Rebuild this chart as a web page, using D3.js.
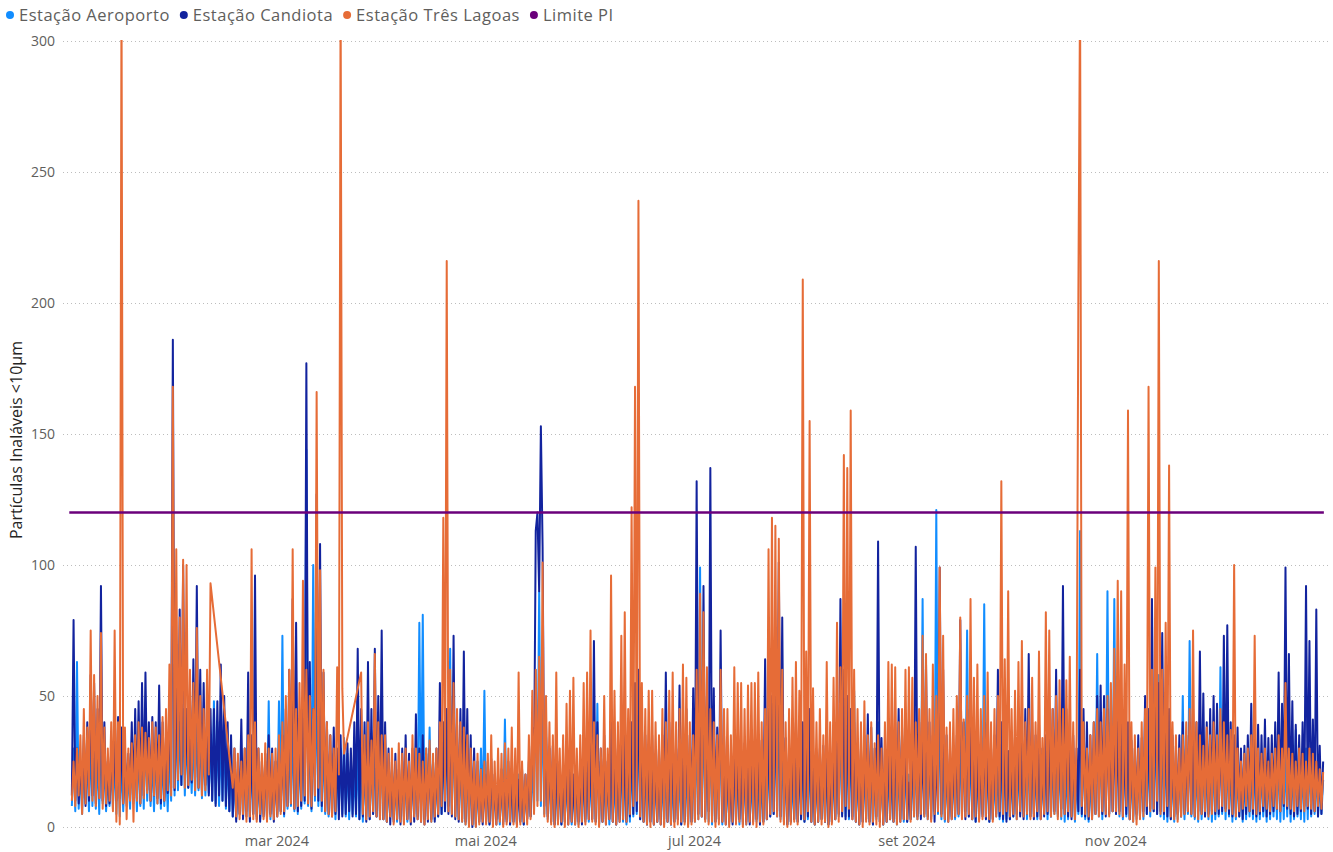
<!DOCTYPE html>
<html>
<head>
<meta charset="utf-8">
<script src="https://cdn.jsdelivr.net/npm/d3@7"></script>
<style>
  body { margin: 0; background: #fff; }
  svg { font-family: "Open Sans", Roboto, sans-serif; }
</style>
</head>
<body>
<svg id="chart" width="1333" height="852"></svg>
<script>
// PM10 readings, two per day (06:00 and 18:00), one inner array per month of 2024
// null = no reading (the line is joined across the gap, as in the source chart)
var aeroporto = [
  [8,30, 6,63, 7,22, 5,25, 9,28, 6,35, 8,30, 7,28, 5,40, 9,25, 6,20, 8,24, 7,28, 5,30, 4,26, 6,22, 8,20, 7,28, 9,30, 6,32, 8,35, 7,38, 10,30, 8,28, 6,32, 9,35, 7,28, 8,25, 6,30, 10,120, 12,45],
  [14,40, 16,45, 12,38, 15,30, 13,35, 12,40, 14,38, 11,32, 12,30, 13,35, 10,48, 9,40, 8,35, 10,38, 7,30, 6,28, 4,20, 3,22, 5,30, 4,25, 6,28, 3,30, 5,40, 4,22, 3,20, 5,25, 4,48, 3,20, 5,25],
  [5,48, 6,73, 4,30, 7,35, 8,40, 6,30, 5,35, 7,40, 9,144, 8,40, 6,100, 10,60, 8,45, 6,35, 5,30, 4,25, 5,28, 3,25, 6,30, 5,34, 4,28, 3,25, 5,22, 4,30, 3,28, 2,25, 4,30, 3,28, 5,32, 4,30, 3,35],
  [3,25, 2,20, 4,22, 3,18, 2,20, 3,25, 4,22, 2,20, 3,25, 5,30, 4,78, 6,81, 3,30, 4,38, 2,25, 3,22, 4,30, 5,35, 6,40, 8,68, 5,45, 4,35, 3,30, 2,28, 1,25, 2,22, 1,20, 0,18, 2,30, 3,52],
  [2,20, 1,18, 2,15, 3,18, 1,20, 2,41, 3,20, 1,18, 2,15, 1,20, 2,18, 1,16, 3,20, 4,25, 6,60, 10,90, 8,50, 5,40, 3,30, 2,25, 1,20, 2,22, 1,18, 2,20, 3,22, 1,18, 2,20, 1,25, 2,22, 3,20, 2,25],
  [3,35, 2,47, 1,25, 2,20, 3,22, 1,25, 2,20, 1,22, 3,30, 2,25, 1,20, 2,30, 4,50, 5,55, 3,30, 2,25, 1,22, 2,20, 1,24, 2,22, 3,20, 1,25, 2,22, 1,20, 2,25, 3,22, 1,20, 2,25, 1,22, 2,30],
  [2,40, 3,99, 4,50, 3,35, 2,40, 1,30, 2,28, 3,47, 1,25, 2,22, 1,20, 2,25, 3,22, 1,20, 2,25, 1,22, 2,20, 3,25, 2,22, 1,20, 2,30, 3,35, 4,40, 5,45, 4,50, 3,35, 2,25, 1,22, 2,20, 3,25, 2,30],
  [3,30, 2,25, 3,30, 2,22, 1,25, 2,28, 3,22, 2,25, 1,20, 2,25, 3,30, 4,40, 5,45, 4,35, 3,40, 4,52, 2,25, 1,22, 2,25, 3,30, 2,25, 1,22, 3,40, 2,25, 1,22, 2,25, 3,22, 2,28, 1,25, 3,38, 2,30],
  [2,20, 3,25, 4,30, 3,35, 5,87, 4,40, 3,30, 4,35, 6,121, 5,50, 3,30, 2,25, 3,22, 4,25, 3,30, 4,35, 5,40, 6,75, 4,35, 3,30, 2,25, 3,30, 5,85, 3,30, 2,25, 3,20, 4,25, 3,30, 2,28, 3,25],
  [3,25, 4,30, 3,28, 5,25, 4,30, 3,35, 4,30, 5,25, 3,28, 4,22, 5,30, 3,35, 4,30, 5,40, 4,30, 3,35, 2,25, 3,30, 4,25, 2,20, 5,113, 4,40, 3,25, 2,20, 3,30, 5,66, 4,40, 3,35, 6,90, 5,50, 6,87],
  [5,50, 4,40, 3,35, 4,30, 3,25, 2,22, 3,25, 4,28, 3,30, 5,35, 4,40, 6,45, 5,58, 4,40, 3,35, 2,30, 3,25, 2,22, 3,25, 4,50, 3,30, 5,71, 4,30, 3,25, 2,30, 3,28, 4,25, 3,30, 2,28, 3,25],
  [4,61, 5,40, 3,30, 4,25, 2,28, 3,22, 4,25, 2,20, 3,22, 4,25, 3,28, 2,22, 3,25, 4,20, 2,25, 3,22, 4,25, 3,30, 2,25, 3,28, 4,30, 2,25, 3,37, 4,22, 3,25, 2,30, 3,28, 4,25, 5,22, 4,20, 5,18]
];

var candiota = [
  [12,79, 10,30, 9,25, 11,35, 8,40, 10,58, 12,55, 9,45, 11,92, 10,40, 8,25, 9,30, 12,35, 10,42, 11,38, 9,30, 13,28, 12,40, 10,45, 11,48, 9,55, 12,59, 14,40, 10,42, 12,40, 11,54, 9,40, 10,35, 13,45, 15,186, 14,60],
  [18,83, 16,100, 20,45, 15,50, 17,64, 19,92, 15,60, 14,55, 16,40, 12,45, 10,45, 8,48, 12,62, 10,50, 8,40, 6,35, 4,30, 2,25, 5,41, 3,30, 4,59, 2,35, 5,96, 3,30, 2,25, 4,28, 3,35, 5,30, 2,25],
  [4,30, 6,35, 5,45, 8,60, 9,87, 7,78, 6,40, 8,50, 10,177, 9,63, 7,45, 12,127, 10,108, 8,59, 6,40, 5,35, 4,38, 5,30, 3,35, 4,30, 5,32, 6,30, 4,40, 5,68, 3,45, 4,40, 2,63, 3,45, 5,68, 4,50, 6,75],
  [3,40, 2,30, 1,25, 2,28, 3,22, 1,30, 2,35, 3,28, 1,30, 2,43, 3,30, 2,35, 1,28, 2,30, 3,25, 2,30, 4,55, 5,40, 6,45, 5,50, 4,73, 3,40, 2,45, 3,67, 2,45, 1,35, 0,30, 1,25, 2,22, 1,20],
  [2,25, 1,26, 2,20, 1,18, 3,22, 1,20, 2,25, 1,22, 2,20, 1,18, 2,22, 1,20, 3,25, 4,38, 20,113, 120,90, 153,107, 8,35, 4,30, 2,31, 1,28, 2,25, 1,22, 2,30, 1,25, 2,20, 1,22, 2,25, 1,28, 2,30, 3,35],
  [3,71, 2,40, 1,30, 2,35, 1,25, 3,40, 2,35, 1,30, 2,40, 3,35, 2,38, 4,40, 5,55, 6,60, 3,40, 2,35, 1,30, 2,35, 1,28, 2,30, 1,35, 3,59, 2,40, 1,35, 2,30, 3,54, 1,40, 2,45, 1,35, 2,53],
  [3,132, 5,60, 4,92, 3,50, 6,137, 4,53, 2,38, 3,75, 2,35, 1,30, 2,20, 1,35, 2,30, 3,28, 1,32, 2,30, 1,35, 2,30, 3,35, 1,33, 2,64, 3,45, 4,50, 5,55, 6,101, 4,80, 2,34, 1,30, 2,35, 3,40, 2,30],
  [3,40, 2,35, 4,45, 2,30, 1,28, 2,30, 3,31, 2,30, 1,21, 2,35, 3,40, 5,87, 4,60, 3,50, 4,45, 3,40, 2,32, 1,30, 2,35, 3,43, 2,38, 1,30, 4,109, 2,34, 1,30, 2,35, 3,30, 2,40, 3,45, 2,35, 3,40],
  [2,17, 3,35, 5,107, 4,40, 3,35, 5,62, 4,40, 3,35, 2,30, 6,99, 5,60, 3,35, 2,30, 3,31, 4,35, 5,79, 4,40, 3,45, 4,50, 3,35, 2,31, 3,30, 4,40, 3,35, 2,30, 3,35, 5,60, 4,40, 3,35, 2,29],
  [3,29, 4,35, 5,40, 4,35, 3,45, 5,66, 4,40, 3,35, 4,40, 3,30, 4,35, 5,40, 4,45, 6,60, 5,40, 7,92, 5,45, 4,40, 3,35, 4,30, 6,60, 5,45, 4,40, 3,35, 4,40, 5,50, 6,54, 5,50, 4,45, 5,40, 6,45],
  [5,40, 6,45, 4,35, 5,40, 3,33, 4,30, 5,35, 4,34, 6,50, 5,45, 7,87, 6,60, 5,55, 6,74, 5,50, 4,45, 3,35, 4,31, 5,35, 4,40, 5,35, 6,40, 5,45, 4,40, 6,67, 5,51, 4,40, 5,45, 6,50, 5,47],
  [5,40, 6,73, 7,77, 5,40, 4,35, 5,38, 4,30, 3,31, 5,35, 6,47, 5,40, 4,39, 5,35, 6,41, 4,34, 5,35, 6,40, 7,59, 6,47, 8,99, 7,66, 5,48, 4,39, 5,35, 6,40, 8,92, 7,71, 5,41, 6,83, 4,31, 5,25]
];

var tresLagoas = [
  [10,25, 8,30, 12,35, 5,45, 9,38, 12,75, 10,58, 8,50, 11,74, 7,38, 9,30, 10,40, 6,75, 2,40, 1,320, 9,38, 3,30, 10,32, 2,35, 10,40, 9,38, 11,36, 13,34, 10,40, 12,38, 9,35, 11,42, 10,45, 14,62, 12,168, 15,106],
  [18,80, 20,102, 15,100, 16,60, 18,55, 14,76, 15,50, 12,45, 14,60, 20,93, null,null, null,null, null,null, null,null, null,null, null,null, 15,30, 4,28, 3,25, 5,30, 2,35, 4,106, 3,40, 2,30, 5,28, 3,32, 2,30, 4,28, 3,30],
  [4,35, 5,40, 6,50, 8,60, 9,106, 7,45, 8,55, 10,94, 12,60, 9,50, 8,45, 12,166, 15,98, 10,60, 6,40, 5,35, 4,30, 6,61, 20,320, 53,28, null,null, null,null, null,null, null,null, null,59, 5,35, 3,40, 4,33, 6,66, 4,40, 3,35],
  [3,35, 2,28, 4,30, 1,25, 3,32, 2,28, 1,30, 3,25, 2,35, 4,30, 3,28, 2,25, 1,30, 3,33, 2,28, 4,30, 5,40, 8,118, 10,216, 6,60, 5,55, 4,45, 3,40, 2,38, 1,35, 0,30, 1,25, 0,28, 1,22, 2,25],
  [1,28, 2,35, 0,25, 1,30, 2,28, 0,32, 1,30, 2,38, 1,30, 0,59, 1,25, 2,20, 1,35, 3,52, 5,60, 8,65, 10,101, 4,50, 2,40, 1,35, 0,59, 1,30, 2,35, 0,47, 1,52, 2,57, 1,30, 0,35, 2,55, 1,59, 3,75],
  [2,40, 1,35, 0,30, 2,50, 1,30, 3,96, 2,52, 1,40, 2,73, 3,82, 2,45, 5,122, 8,168, 10,239, 4,55, 2,45, 1,52, 0,52, 1,40, 2,35, 1,45, 0,40, 2,52, 1,59, 0,40, 1,45, 2,62, 1,57, 0,40, 1,35],
  [2,60, 3,89, 4,82, 2,61, 1,45, 2,40, 0,35, 1,60, 2,45, 1,45, 0,35, 2,61, 1,55, 2,55, 0,45, 1,54, 2,55, 1,55, 0,59, 2,40, 1,45, 3,106, 5,118, 6,115, 4,110, 2,60, 1,40, 0,45, 1,57, 2,63, 1,52],
  [5,209, 3,67, 6,155, 2,53, 1,40, 2,45, 1,35, 2,63, 0,40, 1,57, 3,78, 2,61, 6,142, 8,137, 7,159, 3,60, 2,45, 1,40, 0,48, 2,35, 1,40, 2,32, 1,35, 0,30, 1,40, 2,63, 3,62, 2,61, 1,40, 2,45, 3,60],
  [3,61, 2,57, 4,40, 3,45, 5,73, 4,66, 3,45, 2,62, 5,50, 6,99, 4,73, 3,38, 2,40, 3,45, 4,50, 5,80, 3,41, 4,50, 5,87, 3,57, 4,62, 2,45, 3,50, 4,59, 3,40, 2,45, 4,50, 6,132, 5,64, 6,90],
  [4,45, 5,52, 3,63, 6,71, 4,40, 5,45, 3,57, 4,40, 6,67, 3,34, 5,82, 6,75, 4,45, 5,50, 3,56, 4,45, 5,56, 6,65, 4,40, 3,35, 203,320, 8,40, 5,30, 4,35, 3,40, 5,45, 4,40, 6,45, 5,50, 4,55, 6,68],
  [6,94, 5,90, 4,62, 8,159, 3,40, 2,35, 1,30, 3,40, 4,45, 8,168, 6,60, 7,99, 10,216, 5,60, 6,78, 8,138, 4,40, 3,35, 2,30, 4,35, 5,40, 6,45, 5,75, 4,40, 3,35, 5,31, 6,38, 4,35, 5,40, 6,35],
  [7,45, 8,40, 6,35, 7,37, 5,100, 4,30, 6,25, 7,28, 8,30, 6,35, 7,73, 5,30, 6,28, 8,30, 7,25, 6,28, 8,30, 7,35, 6,30, 9,55, 8,30, 7,28, 6,25, 8,30, 7,28, 6,25, 8,30, 7,28, 6,25, 8,22, 7,21]
];

var limitePI = 120;

var seriesNames = ["Estação Aeroporto", "Estação Candiota", "Estação Três Lagoas", "Limite PI"];
var seriesColors = ["#118DFF", "#12239E", "#E66C37", "#6B007B"];
var yTicks = [0, 50, 100, 150, 200, 250, 300];
var xTicks = ["2024-03-01", "2024-05-01", "2024-07-01", "2024-09-01", "2024-11-01"];
var yTitle = "Partículas Inaláveis <10µm";

var svg = d3.select("#chart"),
    plot = {left: 63, right: 1330, top: 41, bottom: 827},
    x0 = 71, x1 = 1324;

var ptBR = d3.timeFormatLocale({
  dateTime: "%d/%m/%Y %H:%M:%S", date: "%d/%m/%Y", time: "%H:%M:%S",
  periods: ["AM", "PM"],
  days: ["domingo", "segunda", "terça", "quarta", "quinta", "sexta", "sábado"],
  shortDays: ["dom", "seg", "ter", "qua", "qui", "sex", "sáb"],
  months: ["janeiro", "fevereiro", "março", "abril", "maio", "junho", "julho", "agosto", "setembro", "outubro", "novembro", "dezembro"],
  shortMonths: ["jan", "fev", "mar", "abr", "mai", "jun", "jul", "ago", "set", "out", "nov", "dez"]
});

var x = d3.scaleTime()
    .domain([new Date(2024, 0, 1), new Date(2025, 0, 1)])
    .range([x0, x1]);

var y = d3.scaleLinear()
    .domain([0, 300])
    .range([plot.bottom, plot.top]);

function toPoints(months) {
  var pts = [];
  months.forEach(function(vals, m) {
    vals.forEach(function(v, j) {
      if (v != null) pts.push({t: new Date(2024, m, 1, 6 + 12 * j), v: v});
    });
  });
  return pts;
}

// grid + y labels
var yAxis = svg.append("g")
    .attr("transform", "translate(" + plot.left + ",0)")
    .call(d3.axisLeft(y).tickValues(yTicks).tickSize(-(plot.right - plot.left)).tickPadding(8));
yAxis.select(".domain").remove();
yAxis.selectAll(".tick line")
    .attr("stroke", "#BDBDBD")
    .attr("stroke-dasharray", "1,3");
yAxis.selectAll(".tick text")
    .attr("fill", "#605E5C")
    .attr("font-size", 14)
    .attr("font-family", "'Open Sans', sans-serif");

// x labels
var xAxis = svg.append("g")
    .attr("transform", "translate(0," + plot.bottom + ")")
    .call(d3.axisBottom(x)
      .tickValues(xTicks.map(function(d) { return d3.timeParse("%Y-%m-%d")(d); }))
      .tickFormat(ptBR.format("%b %Y"))
      .tickSize(0).tickPadding(9));
xAxis.select(".domain").remove();
xAxis.selectAll(".tick text")
    .attr("fill", "#605E5C")
    .attr("font-size", 14.5)
    .attr("font-family", "'Open Sans', sans-serif");

svg.append("text")
    .attr("transform", "translate(22,440) rotate(-90)")
    .attr("text-anchor", "middle")
    .attr("font-size", 16)
    .attr("fill", "#252423")
    .text(yTitle);

svg.append("clipPath").attr("id", "clip")
  .append("rect")
    .attr("x", plot.left).attr("y", plot.top - 1)
    .attr("width", plot.right - plot.left).attr("height", plot.bottom - plot.top + 3);

var line = d3.line()
    .x(function(d) { return x(d.t); })
    .y(function(d) { return y(d.v); });

var lines = svg.append("g").attr("clip-path", "url(#clip)");

[aeroporto, candiota, tresLagoas].forEach(function(s, i) {
  lines.append("path")
      .datum(toPoints(s))
      .attr("fill", "none")
      .attr("stroke", seriesColors[i])
      .attr("stroke-width", 2)
      .attr("stroke-linejoin", "round")
      .attr("d", line);
});

lines.append("path")
    .datum([{t: new Date(2023, 11, 31, 12), v: limitePI}, {t: new Date(2024, 11, 31, 23), v: limitePI}])
    .attr("fill", "none")
    .attr("stroke", seriesColors[3])
    .attr("stroke-width", 2.5)
    .attr("d", line);

// legend
var lx = 10;
seriesNames.forEach(function(name, i) {
  var g = svg.append("g").attr("transform", "translate(" + lx + ",15)");
  g.append("circle").attr("r", 4).attr("fill", seriesColors[i]);
  var t = g.append("text")
      .attr("x", 9)
      .attr("dy", "0.35em")
      .attr("font-size", 16.5)
      .attr("letter-spacing", 0.5)
      .attr("fill", "#605E5C")
      .text(name);
  lx += 9 + t.node().getComputedTextLength() + 14;
});
</script>
</body>
</html>
